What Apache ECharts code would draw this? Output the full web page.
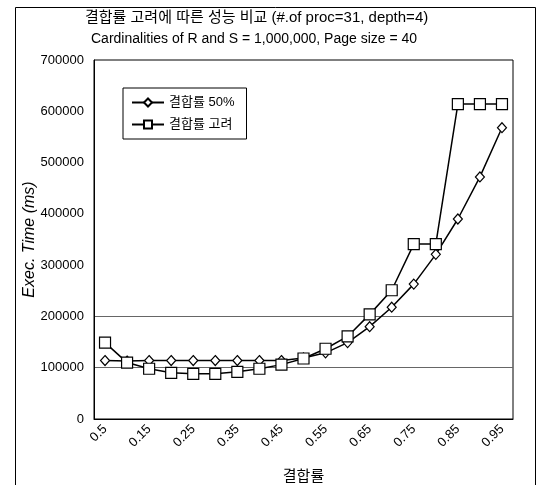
<!DOCTYPE html>
<html>
<head>
<meta charset="utf-8">
<script src="https://cdn.jsdelivr.net/npm/echarts@6/dist/echarts.min.js"></script>
<style>html,body{margin:0;padding:0;background:#fff}#c{width:539px;height:485px}</style>
</head>
<body>
<div id="c"></div>
<script>
var categories = ['0.5','0.1','0.15','0.2','0.25','0.3','0.35','0.4','0.45','0.5','0.55','0.6','0.65','0.7','0.75','0.8','0.85','0.9','0.95'];
var rate50 = [114000,113000,114000,114000,114000,114000,114000,114000,114000,119000,129000,149000,180000,218000,263000,321000,390000,472000,568000];
var rateAware = [149000,110000,98000,90000,88000,88000,92000,98000,106000,118000,137000,161000,204000,251000,341000,341000,614000,614000,614000];
var yTicks = [0,100000,200000,300000,400000,500000,600000,700000];

var font = '"Liberation Sans", Arial, "Noto Sans CJK KR", sans-serif';
var chart = echarts.init(document.getElementById('c'), null, {renderer:'canvas'});
chart.setOption({
  animation: false,
  backgroundColor: '#fff',
  graphic: [{
    type: 'rect', left: 13, top: 5, shape: {width: 520, height: 490},
    style: {fill: 'none', stroke: '#000', lineWidth: 1}, silent: true
  }],
  title: [{
    text: '결합률 고려에 따른 성능 비교 (#.of proc=31, depth=4)',
    left: 80, top: 5,
    textStyle: {fontFamily: font, fontSize: 15, fontWeight: 'normal', color: '#000'}
  },{
    text: 'Cardinalities of R and S = 1,000,000, Page size = 40',
    left: 86, top: 27,
    textStyle: {fontFamily: font, fontSize: 14, fontWeight: 'normal', color: '#000'}
  }],
  legend: {
    left: 123, top: 88, orient: 'vertical',
    backgroundColor: '#fff', borderColor: '#000', borderWidth: 1,
    padding: [8, 12, 8, 8], itemGap: 9,
    itemWidth: 32, itemHeight: 10,
    textStyle: {fontFamily: font, fontSize: 13, color: '#000'},
    data: ['결합률 50%', '결합률 고려']
  },
  grid: {left: 94, top: 60, right: 26, bottom: 66, show: true, borderColor: '#000', borderWidth: 1, backgroundColor: '#fff', containLabel: false, outerBoundsMode: 'none'},
  xAxis: {
    type: 'category', data: categories, boundaryGap: true,
    name: '결합률', nameLocation: 'middle', nameGap: 50, nameMoveOverlap: false,
    nameTextStyle: {fontFamily: font, fontSize: 15, color: '#000'},
    axisLine: {lineStyle: {color: '#000', width: 1}},
    axisTick: {show: false},
    axisLabel: {interval: 1, rotate: 45, fontFamily: font, fontSize: 13, color: '#000', margin: 8},
    splitLine: {show: false}
  },
  yAxis: {
    type: 'value', min: yTicks[0], max: yTicks[yTicks.length-1], interval: 100000,
    name: 'Exec. Time (ms)', nameLocation: 'middle', nameGap: 56, nameMoveOverlap: false,
    nameTextStyle: {fontFamily: font, fontSize: 16, fontStyle: 'italic', color: '#000'},
    axisLine: {show: true, lineStyle: {color: '#000'}},
    axisTick: {show: false},
    axisLabel: {fontFamily: font, fontSize: 13, color: '#000', margin: 10, formatter: function(v){ return String(v); }},
    splitLine: {show: true, lineStyle: {color: ['rgba(0,0,0,0)','#666','#666','rgba(0,0,0,0)','rgba(0,0,0,0)','rgba(0,0,0,0)','rgba(0,0,0,0)','rgba(0,0,0,0)'], width: 1}}
  },
  series: [{
    name: '결합률 50%', type: 'line', data: rate50,
    symbol: 'diamond', symbolSize: [9, 10], showAllSymbol: true,
    lineStyle: {color: '#000', width: 1.5},
    itemStyle: {color: '#fff', borderColor: '#000', borderWidth: 1.2},
    z: 3
  },{
    name: '결합률 고려', type: 'line', data: rateAware,
    symbol: 'rect', symbolSize: 11, showAllSymbol: true,
    lineStyle: {color: '#000', width: 1.5},
    itemStyle: {color: '#fff', borderColor: '#000', borderWidth: 1.2},
    z: 4
  }]
});
</script>
</body>
</html>
